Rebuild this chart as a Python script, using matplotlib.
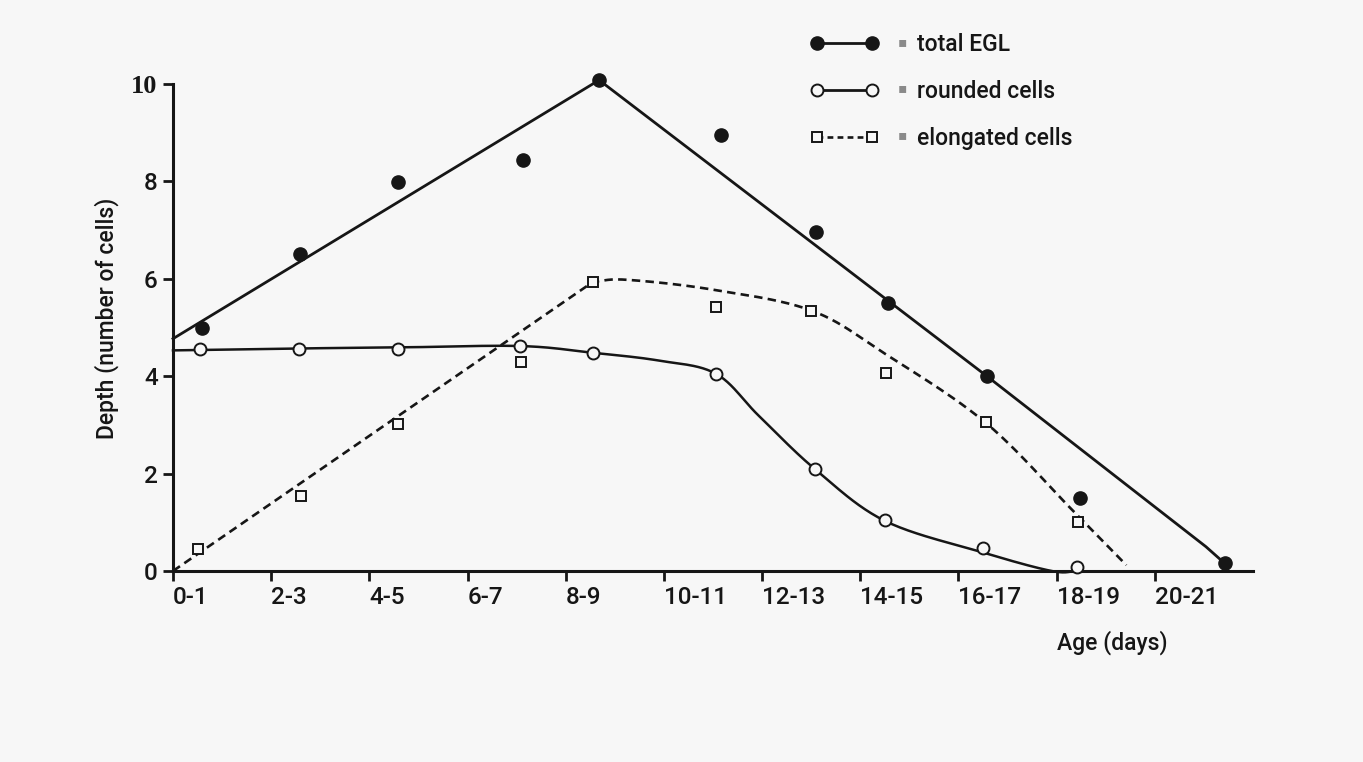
import numpy as np
import matplotlib
matplotlib.use("Agg")
import matplotlib.pyplot as plt
from matplotlib.lines import Line2D
from matplotlib.legend_handler import HandlerLine2D

# ---------------- data ----------------
age_labels = ['0-1', '2-3', '4-5', '6-7', '8-9', '10-11', '12-13',
              '14-15', '16-17', '18-19', '20-21']
y_ticks = [0, 2, 4, 6, 8, 10]

# measured points (x in tick-index units)
total_x = [0.30, 1.29, 2.29, 3.56, 4.34, 5.58, 6.55, 7.28, 8.29, 9.24, 10.71]
total_y = [4.98, 6.50, 7.99, 8.44, 10.08, 8.95, 6.96, 5.50, 4.00, 1.50, 0.16]

rounded_x = [0.28, 1.28, 2.29, 3.53, 4.28, 5.53, 6.54, 7.25, 8.25, 9.21]
rounded_y = [4.55, 4.55, 4.55, 4.63, 4.47, 4.05, 2.09, 1.05, 0.47, 0.08]

elong_x = [0.25, 1.30, 2.29, 3.54, 4.28, 5.53, 6.50, 7.26, 8.28, 9.22]
elong_y = [0.45, 1.54, 3.01, 4.30, 5.94, 5.42, 5.34, 4.07, 3.05, 1.00]

# hand-drawn fitted curves, knots
total_fit_x = [0.0, 4.34, 8.29, 10.52, 10.71]
total_fit_y = [4.77, 10.08, 4.00, 0.50, 0.16]

rounded_fit_x = [0.0, 1.28, 2.29, 3.53, 4.28, 4.95, 5.53, 5.97, 6.54,
                 7.25, 8.25, 8.95, 9.21]
rounded_fit_y = [4.53, 4.57, 4.59, 4.62, 4.48, 4.32, 4.05, 3.18, 2.09,
                 1.03, 0.38, 0.0, 0.0]

elong_rise_x = [0.0, 4.28]
elong_rise_y = [0.0, 5.94]
elong_fall_x = [4.28, 4.62, 5.49, 6.50, 7.26, 8.28, 9.16, 9.71]
elong_fall_y = [5.94, 5.98, 5.78, 5.35, 4.45, 3.04, 1.25, 0.12]

legend_labels = ['total EGL', 'rounded cells', 'elongated cells']


def smooth(xs, ys, n=24):
    """Catmull-Rom rendering of a hand-drawn curve through its knots."""
    pts = np.column_stack([xs, ys]).astype(float)
    P = np.vstack([2 * pts[0] - pts[1], pts, 2 * pts[-1] - pts[-2]])
    out = []
    t = np.linspace(0, 1, n, endpoint=False)[:, None]
    for i in range(1, len(P) - 2):
        p0, p1, p2, p3 = P[i - 1], P[i], P[i + 1], P[i + 2]
        seg = 0.5 * ((2 * p1) + (-p0 + p2) * t
                     + (2 * p0 - 5 * p1 + 4 * p2 - p3) * t ** 2
                     + (-p0 + 3 * p1 - 3 * p2 + p3) * t ** 3)
        out.append(seg)
    out.append(pts[-1][None, :])
    s = np.vstack(out)
    return s[:, 0], s[:, 1]


# ---------------- figure ----------------
BG = '#f7f7f7'
INK = '#161616'
FONT = ['Roboto', 'DejaVu Sans']
plt.rcParams['font.family'] = FONT
plt.rcParams['font.weight'] = 'medium'

W, H = 1363, 762
fig = plt.figure(figsize=(W / 100, H / 100), dpi=100, facecolor=BG)
ax = fig.add_axes([173 / W, 1 - 571 / H, (1253 - 173) / W, (571 - 84) / H])
ax.set_facecolor(BG)
ax.set_xlim(0, 11)
ax.set_ylim(0, 10)

for s in ['top', 'right']:
    ax.spines[s].set_visible(False)
for s in ['left', 'bottom']:
    ax.spines[s].set_linewidth(2.2)
    ax.spines[s].set_color(INK)

ax.set_xticks(range(len(age_labels)))
ax.set_xticklabels(age_labels, fontsize=17.5, color=INK, ha='left')
ax.set_yticks(y_ticks)
ax.set_yticklabels([str(v) for v in y_ticks], fontsize=17.5, color=INK)
ax.tick_params(axis='x', direction='out', length=7, width=2, color=INK, pad=4)
ax.tick_params(axis='y', direction='out', length=7, width=2, color=INK, pad=4)
for lab in ax.get_yticklabels():
    if lab.get_text() == '10':
        lab.set_fontfamily(['Liberation Serif', 'DejaVu Serif'])
        lab.set_fontweight('bold')
        lab.set_fontsize(19)

# fitted curves
ax.plot(total_fit_x, total_fit_y, color=INK, lw=2.0, solid_joinstyle='round',
        clip_on=False, zorder=2)
rx, ry = smooth(rounded_fit_x, rounded_fit_y)
ax.plot(rx, ry, color=INK, lw=1.8, clip_on=False, zorder=2)
fx, fy = smooth(elong_fall_x, elong_fall_y)
ex = np.concatenate([elong_rise_x, fx[1:]])
ey = np.concatenate([elong_rise_y, fy[1:]])
ax.plot(ex, ey, color=INK, lw=1.9, dashes=(3.2, 2.0), clip_on=False, zorder=2)

# data points
ax.plot(total_x, total_y, linestyle='none', marker='o', ms=9.5,
        mfc=INK, mec=INK, clip_on=False, zorder=4)
ax.plot(rounded_x, rounded_y, linestyle='none', marker='o', ms=8.6,
        mfc=BG, mec=INK, mew=1.4, clip_on=False, zorder=4)
ax.plot(elong_x, elong_y, linestyle='none', marker='s', ms=7.8,
        mfc=BG, mec=INK, mew=1.4, clip_on=False, zorder=4)

# legend
handles = [
    Line2D([], [], color=INK, lw=2.0, marker='o', ms=9.5, mfc=INK, mec=INK),
    Line2D([], [], color=INK, lw=2.0, marker='o', ms=8.6, mfc=BG, mec=INK, mew=1.4),
    Line2D([], [], color=INK, lw=1.9, dashes=(2.2, 1.6), marker='s', ms=7.8,
           mfc=BG, mec=INK, mew=1.4),
]
hmap = {h: HandlerLine2D(numpoints=2, marker_pad=0) for h in handles}
leg = ax.legend(handles, legend_labels, handler_map=hmap, frameon=False,
                fontsize=16.5, loc='upper left',
                bbox_to_anchor=(817 / W, 1 - 33 / H), bbox_transform=fig.transFigure,
                borderpad=0, borderaxespad=0, handlelength=2.4,
                handletextpad=1.95, labelspacing=1.05)
for txt in leg.get_texts():
    txt.set_color(INK)
# small grey square marks between legend symbols and labels
for row_y in [42, 88, 135]:
    fig.text(902 / W, 1 - row_y / H, '\u25aa', ha='center', va='center',
             fontsize=10, color='#8a8a8a', family=['DejaVu Sans'])

# axis titles
fig.text(107 / W, 1 - 318 / H, 'Depth (number of cells)', rotation=90,
         ha='center', va='center', fontsize=16.5, color=INK)
fig.text(1112 / W, 1 - 643 / H, 'Age (days)', ha='center', va='center',
         fontsize=16.5, color=INK)

fig.savefig('out.png', dpi=100, facecolor=BG)
